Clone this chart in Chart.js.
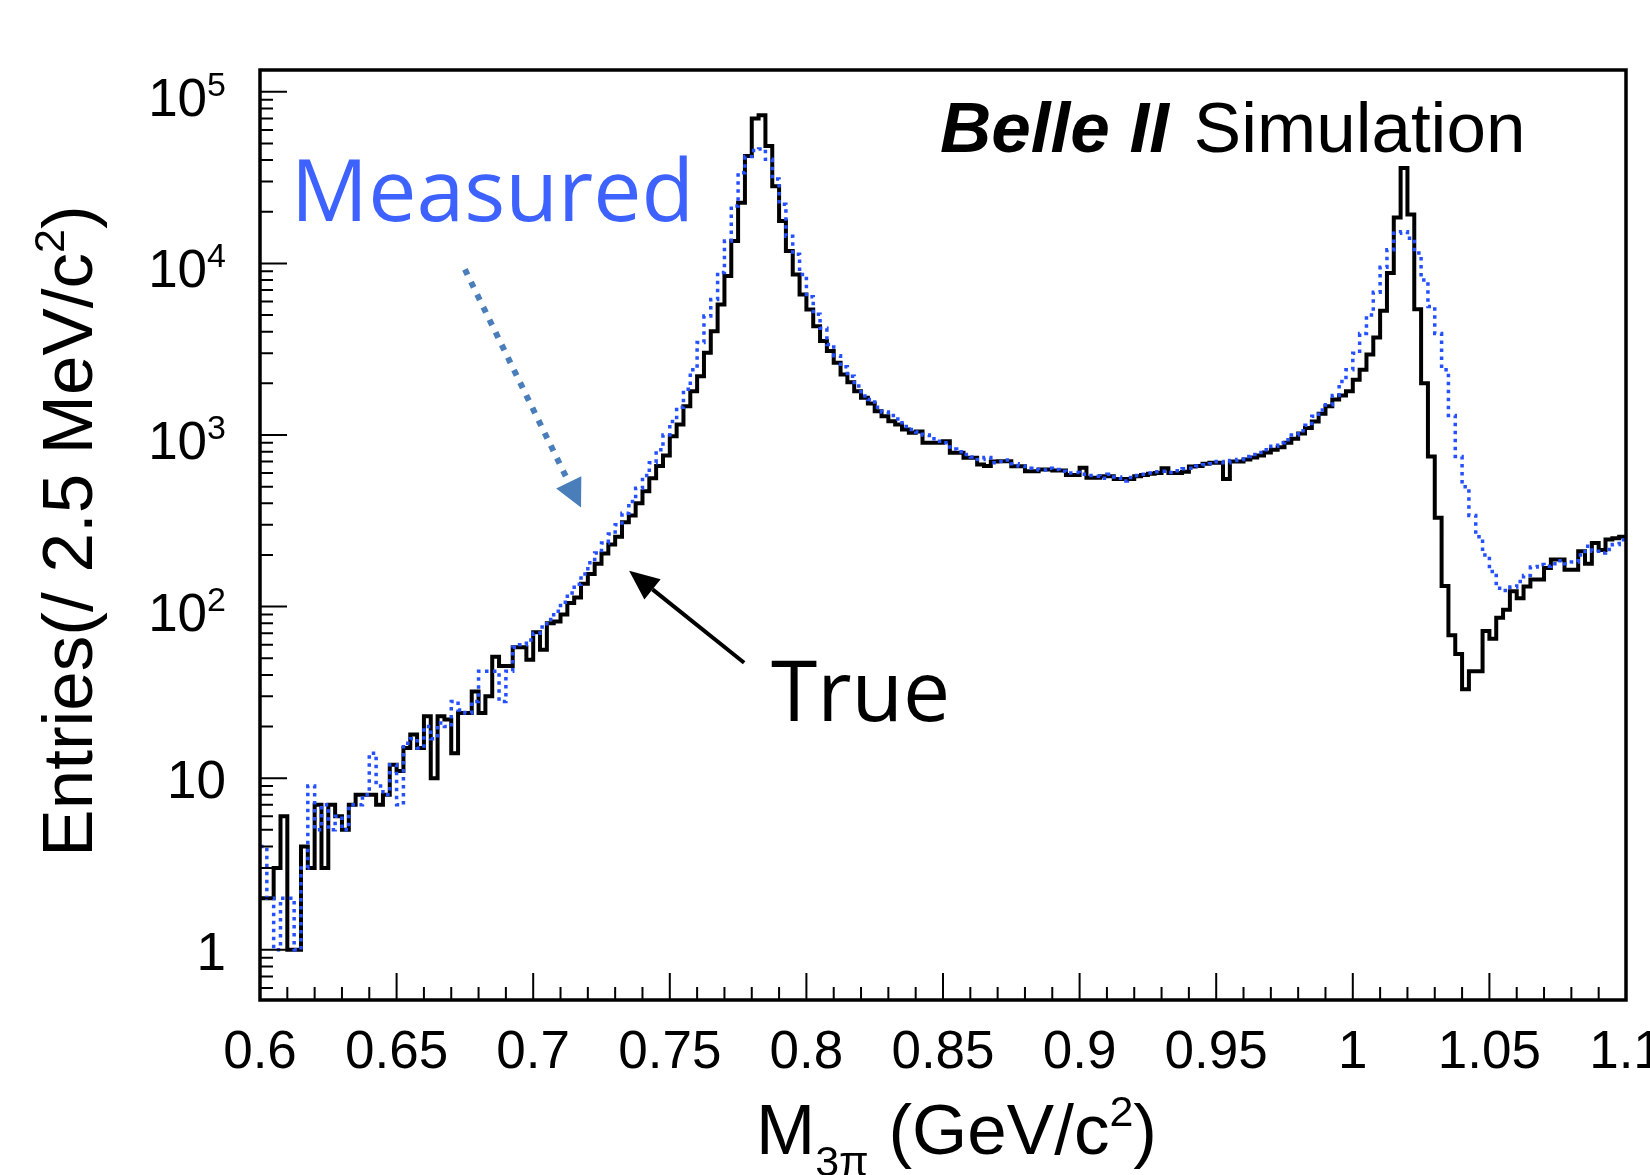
<!DOCTYPE html>
<html>
<head>
<meta charset="utf-8">
<script src="https://cdn.jsdelivr.net/npm/chart.js@4"></script>
<style>
  html, body { margin: 0; padding: 0; background: #fff; }
  canvas { display: block; }
</style>
</head>
<body>
<canvas id="myChart" width="1650" height="1175"></canvas>
<script>
// histogram binning: 200 bins of 2.5 MeV from 0.6 to 1.1 GeV
const xMin = 0.6;
const xMax = 1.1;
const binWidth = 0.0025;

// "True" M(3pi), solid black
const trueCounts = [
  2, 2, 3, 6, 1, 1, 4, 3, 7, 3,
  7, 6, 5, 7, 8, 8, 8, 7, 8, 12,
  11, 15, 18, 15, 23, 10, 23, 22, 14, 24,
  24, 32, 24, 30, 51, 45, 45, 58, 58, 49,
  71, 56, 80, 82, 90, 105, 113, 136, 155, 178,
  204, 230, 255, 310, 340, 400, 470, 560, 660, 760,
  984, 1152, 1472, 1802, 2203, 3013, 4030, 5765, 8440, 13500,
  22600, 42300, 69800, 72900, 48300, 28200, 17650, 11800, 8630, 6590,
  5390, 4310, 3525, 3083, 2637, 2254, 2032, 1802, 1648, 1527,
  1377, 1288, 1204, 1152, 1077, 1030, 1050, 900, 900, 900,
  920, 787, 787, 736, 736, 673, 660, 700, 704, 704,
  658, 658, 615, 615, 630, 630, 622, 622, 585, 585,
  644, 563, 563, 575, 575, 555, 555, 555, 575, 585,
  595, 600, 640, 600, 600, 610, 655, 660, 680, 690,
  690, 555, 700, 700, 720, 740, 760, 790, 820, 850,
  900, 950, 1020, 1100, 1200, 1330, 1470, 1610, 1700, 1800,
  2100, 2400, 2950, 3700, 5300, 8800, 18500, 36000, 19300, 5400,
  2000, 750, 330, 132, 68, 53, 33, 42, 42, 72,
  65, 86, 96, 123, 112, 131, 144, 144, 168, 188,
  188, 164, 164, 210, 178, 235, 214, 246, 250, 255
];

// "Measured" M(3pi), blue dotted
const measuredCounts = [
  4, 2, 1, 2, 2, 1, 3, 9, 5, 7,
  5, 6, 5, 7, 7, 8, 14, 9, 8, 12,
  7, 16, 17, 15, 20, 17, 21, 20, 28, 25,
  24, 28, 42, 42, 42, 28, 42, 58, 60, 64,
  70, 76, 84, 94, 106, 120, 135, 155, 180, 205,
  235, 265, 300, 350, 410, 490, 580, 690, 820, 1000,
  1200, 1450, 1850, 2400, 3460, 4930, 6165, 8850, 13500, 21600,
  33800, 42000, 45500, 46500, 40400, 31000, 22100, 14400, 11300, 8630,
  6400, 5050, 4190, 3370, 2900, 2500, 2200, 1930, 1690, 1610,
  1450, 1360, 1300, 1240, 1120, 1077, 1040, 1000, 950, 920,
  900, 830, 800, 770, 745, 720, 740, 690, 700, 715,
  680, 660, 640, 630, 625, 640, 630, 615, 600, 605,
  590, 580, 575, 560, 590, 570, 540, 565, 580, 590,
  600, 610, 615, 605, 620, 635, 640, 660, 670, 680,
  700, 690, 710, 720, 750, 770, 790, 820, 860, 900,
  940, 1000, 1060, 1140, 1288, 1400, 1500, 1700, 2050, 2400,
  3000, 3900, 5000, 6800, 9500, 12000, 15000, 15300, 14000, 11500,
  8000, 5600, 3900, 2400, 1300, 750, 500, 340, 255, 200,
  160, 128, 124, 130, 140, 152, 170, 176, 172, 178,
  185, 178, 182, 200, 225, 210, 205, 215, 230, 245
];

const xTickValues = [0.6, 0.65, 0.7, 0.75, 0.8, 0.85, 0.9, 0.95, 1, 1.05, 1.1];
const xTickLabels = ['0.6', '0.65', '0.7', '0.75', '0.8', '0.85', '0.9', '0.95', '1', '1.05', '1.1'];
const yTickValues = [1, 10, 100, 1000, 10000, 100000];
const yTickBases = ['1', '10', '10', '10', '10', '10'];
const yTickExponents = ['', '', '2', '3', '4', '5'];

const yMin = 0.51;
const yMax = 1.34e5;

const ROOT_FONT = '"Liberation Sans", Arial, Helvetica, sans-serif';
const NOTE_FONT = '"Open Sans", "Noto Sans", sans-serif';

// one point per lower bin edge, plus the closing edge at xMax
function stepPoints(counts) {
  const pts = counts.map((c, i) => ({ x: xMin + i * binWidth, y: c }));
  pts.push({ x: xMax, y: counts[counts.length - 1] });
  return pts;
}

function drawArrow(ctx, x0, y0, x1, y1, color, width, dash, headLen, headW) {
  const ang = Math.atan2(y1 - y0, x1 - x0);
  const ex = x1 - headLen * Math.cos(ang);
  const ey = y1 - headLen * Math.sin(ang);
  ctx.save();
  ctx.strokeStyle = color;
  ctx.fillStyle = color;
  ctx.lineWidth = width;
  ctx.lineCap = 'butt';
  ctx.setLineDash(dash);
  ctx.beginPath();
  ctx.moveTo(x0, y0);
  ctx.lineTo(ex, ey);
  ctx.stroke();
  ctx.setLineDash([]);
  const px = -Math.sin(ang) * headW / 2;
  const py = Math.cos(ang) * headW / 2;
  ctx.beginPath();
  ctx.moveTo(x1, y1);
  ctx.lineTo(ex + px, ey + py);
  ctx.lineTo(ex - px, ey - py);
  ctx.closePath();
  ctx.fill();
  ctx.restore();
}

// pieces: [text, size, baseline shift]
function richWidth(ctx, pieces) {
  let w = 0;
  pieces.forEach(([t, size]) => {
    ctx.font = `${size}px ${ROOT_FONT}`;
    w += ctx.measureText(t).width;
  });
  return w;
}
function drawRich(ctx, pieces, x, y) {
  let cx = x;
  pieces.forEach(([t, size, dy]) => {
    ctx.font = `${size}px ${ROOT_FONT}`;
    ctx.fillText(t, cx, y + dy);
    cx += ctx.measureText(t).width;
  });
}

// ROOT style frame, inner ticks, y labels, titles and notes
const rootStyle = {
  id: 'rootStyle',
  afterDatasetsDraw(chart) {
    const { ctx, chartArea: a, scales: { x, y } } = chart;
    ctx.save();
    ctx.strokeStyle = '#000';
    ctx.lineWidth = 2;
    ctx.beginPath();
    // x ticks (major every 0.05, minor every 0.01)
    for (let k = 0; k <= 50; k++) {
      const px = x.getPixelForValue(xMin + k * 0.01);
      const len = k % 5 === 0 ? 27 : 13;
      ctx.moveTo(px, a.bottom);
      ctx.lineTo(px, a.bottom - len);
    }
    // y ticks (decades + 2..9)
    yTickValues.forEach(v => {
      const py = y.getPixelForValue(v);
      ctx.moveTo(a.left, py);
      ctx.lineTo(a.left + 27, py);
    });
    for (let e = -1; e <= 5; e++) {
      for (let m = 2; m <= 9; m++) {
        const v = m * Math.pow(10, e);
        if (v < yMin || v > yMax) continue;
        const py = y.getPixelForValue(v);
        ctx.moveTo(a.left, py);
        ctx.lineTo(a.left + 13, py);
      }
    }
    ctx.stroke();

    ctx.lineWidth = 3.5;
    ctx.strokeRect(a.left, a.top, a.right - a.left, a.bottom - a.top);

    // y tick labels
    ctx.fillStyle = '#000';
    ctx.textBaseline = 'alphabetic';
    ctx.textAlign = 'left';
    yTickValues.forEach((v, i) => {
      const py = y.getPixelForValue(v);
      const exp = yTickExponents[i];
      const pieces = exp
        ? [[yTickBases[i], 53, 0], [exp, 34, -20]]
        : [[yTickBases[i], 53, 0]];
      const w = richWidth(ctx, pieces);
      drawRich(ctx, pieces, a.left - 34 - w, py + (exp ? 24 : 20));
    });

    // x title
    drawRich(ctx, [['M', 71, 0], ['3\u03c0', 43, 22], [' (GeV/c', 71, 0], ['2', 43, -28], [')', 71, 0]], 756, 1154);

    // y title, rotated
    const yPieces = [['Entries(/ 2.5 MeV/c', 71, 0], ['2', 43, -28], [')', 71, 0]];
    const yw = richWidth(ctx, yPieces);
    ctx.save();
    ctx.translate(92, 531);
    ctx.rotate(-Math.PI / 2);
    drawRich(ctx, yPieces, -yw / 2, 0);
    ctx.restore();

    // Belle II Simulation
    const bx = x.getPixelForValue(0.8489);
    const by = y.getPixelForValue(44400);
    ctx.font = `italic bold 71px ${ROOT_FONT}`;
    ctx.fillText('Belle II', bx, by);
    const bw = ctx.measureText('Belle II').width;
    ctx.font = `71px ${ROOT_FONT}`;
    ctx.fillText('Simulation', bx + bw + 25, by);

    // notes
    ctx.font = `86px ${NOTE_FONT}`;
    ctx.fillStyle = '#3d62ff';
    ctx.fillText('Measured', x.getPixelForValue(0.6113), y.getPixelForValue(17580));
    ctx.fillStyle = '#000';
    ctx.font = `84px ${NOTE_FONT}`;
    ctx.fillText('True', x.getPixelForValue(0.787), y.getPixelForValue(21.6));

    drawArrow(ctx,
      x.getPixelForValue(0.675), y.getPixelForValue(9230),
      x.getPixelForValue(0.7175), y.getPixelForValue(378),
      '#4a7ebb', 6, [6, 8], 28, 28);
    drawArrow(ctx,
      x.getPixelForValue(0.7772), y.getPixelForValue(47.1),
      x.getPixelForValue(0.7351), y.getPixelForValue(162),
      '#000', 4, [], 30, 26);
    ctx.restore();
  }
};

const ctx = document.getElementById('myChart').getContext('2d');

new Chart(ctx, {
  type: 'line',
  data: {
    datasets: [
      {
        label: 'True',
        data: stepPoints(trueCounts),
        borderColor: '#000',
        borderWidth: 4,
        stepped: true,
        pointRadius: 0,
        fill: false,
        order: 1
      },
      {
        label: 'Measured',
        data: stepPoints(measuredCounts),
        borderColor: '#2450ff',
        borderWidth: 3.5,
        borderDash: [3.5, 4.5],
        stepped: true,
        pointRadius: 0,
        fill: false,
        order: 0
      }
    ]
  },
  options: {
    responsive: false,
    devicePixelRatio: 1,
    animation: false,
    layout: { padding: { left: 260, right: 24, top: 70, bottom: 0 } },
    scales: {
      x: {
        type: 'linear',
        min: xMin,
        max: xMax,
        grid: { display: false, drawTicks: false },
        border: { display: false },
        afterBuildTicks: (scale) => {
          scale.ticks = xTickValues.map(v => ({ value: v }));
        },
        afterFit: (scale) => {
          scale.height = 175;
          scale.paddingLeft = 0;
          scale.paddingRight = 0;
        },
        ticks: {
          maxRotation: 0,
          autoSkip: false,
          padding: 22,
          color: '#000',
          font: { family: ROOT_FONT, size: 53 },
          callback: (value, index) => xTickLabels[index]
        }
      },
      y: {
        type: 'logarithmic',
        display: false,
        min: yMin,
        max: yMax
      }
    },
    plugins: {
      legend: { display: false },
      tooltip: { enabled: false }
    }
  },
  plugins: [rootStyle]
});
</script>
</body>
</html>
